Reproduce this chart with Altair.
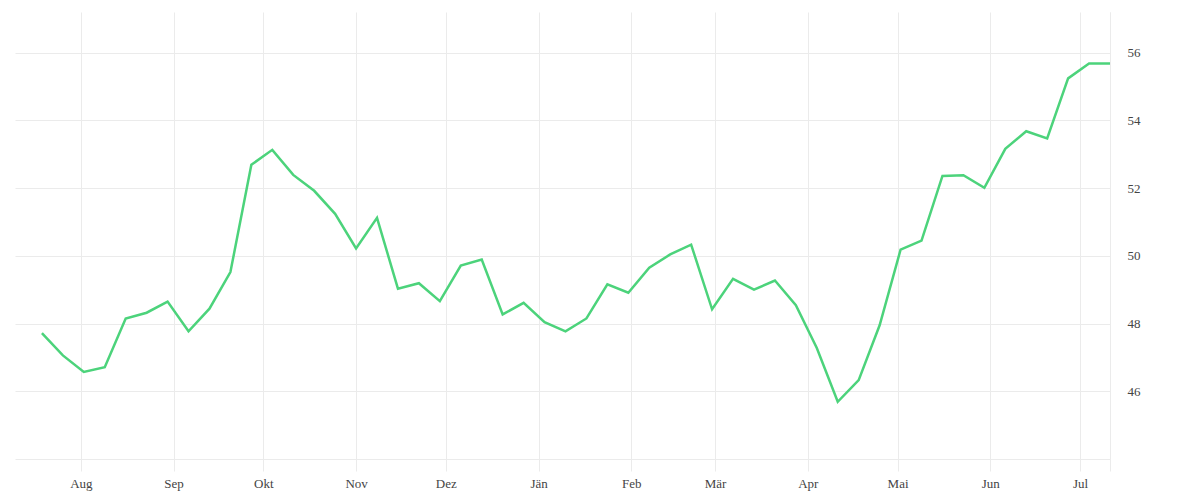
import altair as alt
import pandas as pd

dates = [
    "2022-07-19", "2022-07-26", "2022-08-02", "2022-08-09", "2022-08-16", "2022-08-23", "2022-08-30",
    "2022-09-06", "2022-09-13", "2022-09-20", "2022-09-27", "2022-10-04", "2022-10-11", "2022-10-18",
    "2022-10-25", "2022-11-01", "2022-11-08", "2022-11-15", "2022-11-22", "2022-11-29", "2022-12-06",
    "2022-12-13", "2022-12-20", "2022-12-27", "2023-01-03", "2023-01-10", "2023-01-17", "2023-01-24",
    "2023-01-31", "2023-02-07", "2023-02-14", "2023-02-21", "2023-02-28", "2023-03-07", "2023-03-14",
    "2023-03-21", "2023-03-28", "2023-04-04", "2023-04-11", "2023-04-18", "2023-04-25", "2023-05-02",
    "2023-05-09", "2023-05-16", "2023-05-23", "2023-05-30", "2023-06-06", "2023-06-13", "2023-06-20",
    "2023-06-27", "2023-07-04", "2023-07-11",
]
values = [
    47.72, 47.06, 46.57, 46.71, 48.15, 48.32, 48.65, 47.77, 48.44, 49.52,
    52.69, 53.13, 52.39, 51.92, 51.24, 50.22, 51.12, 49.03, 49.19, 48.66,
    49.71, 49.89, 48.27, 48.61, 48.04, 47.77, 48.15, 49.16, 48.91, 49.65,
    50.04, 50.33, 48.42, 49.32, 49.00, 49.27, 48.54, 47.28, 45.69, 46.33,
    47.95, 50.18, 50.45, 52.36, 52.38, 52.01, 53.16, 53.68, 53.47, 55.24,
    55.68, 55.68,
]
month_names = ["Jän", "Feb", "Mär", "Apr", "Mai", "Jun", "Jul", "Aug", "Sep", "Okt", "Nov", "Dez"]
x_tick_dates = [
    (2022, 8, 1), (2022, 9, 1), (2022, 10, 1), (2022, 11, 1), (2022, 12, 1), (2023, 1, 1),
    (2023, 2, 1), (2023, 3, 1), (2023, 4, 1), (2023, 5, 1), (2023, 6, 1), (2023, 7, 1), (2023, 7, 11),
]
y_ticks = [46, 48, 50, 52, 54, 56]

df = pd.DataFrame({"date": dates, "value": values})

names_js = "[" + ",".join("'" + m + "'" for m in month_names) + "]"
label_expr = f"utcdate(datum.value) == 1 ? {names_js}[utcmonth(datum.value)] : ''"

grid_color = "#ebebeb"
font = "Liberation Serif"

chart = alt.Chart(df).mark_line(color="#4cd37b", strokeWidth=2.5).encode(
    x=alt.X(
        "date:T",
        scale=alt.Scale(
            type="utc",
            domain=[alt.DateTime(year=2022, month=7, date=10, utc=True),
                    alt.DateTime(year=2023, month=7, date=11, utc=True)],
            nice=False,
        ),
        axis=alt.Axis(
            title=None,
            values=[alt.DateTime(year=y, month=m, date=d, utc=True) for (y, m, d) in x_tick_dates],
            labelExpr=label_expr,
            grid=True,
            gridColor=grid_color,
            domain=True,
            domainColor=grid_color,
            ticks=True,
            tickColor=grid_color,
            tickSize=12,
            labelPadding=6,
            labelFont=font,
            labelFontSize=13,
            labelColor="#444444",
        ),
    ),
    y=alt.Y(
        "value:Q",
        scale=alt.Scale(domain=[44, 57.2], nice=False, zero=False),
        axis=alt.Axis(
            title=None,
            orient="right",
            values=y_ticks,
            grid=True,
            gridColor=grid_color,
            domain=True,
            domainColor=grid_color,
            ticks=False,
            labelPadding=17,
            labelFont=font,
            labelFontSize=13,
            labelColor="#444444",
        ),
    ),
).properties(
    width=1095,
    height=447,
    padding={"left": 7, "top": 4, "right": 5, "bottom": 5},
).configure_view(stroke=None)

chart.save("out.html", embed_options={"renderer": "svg", "actions": False})
